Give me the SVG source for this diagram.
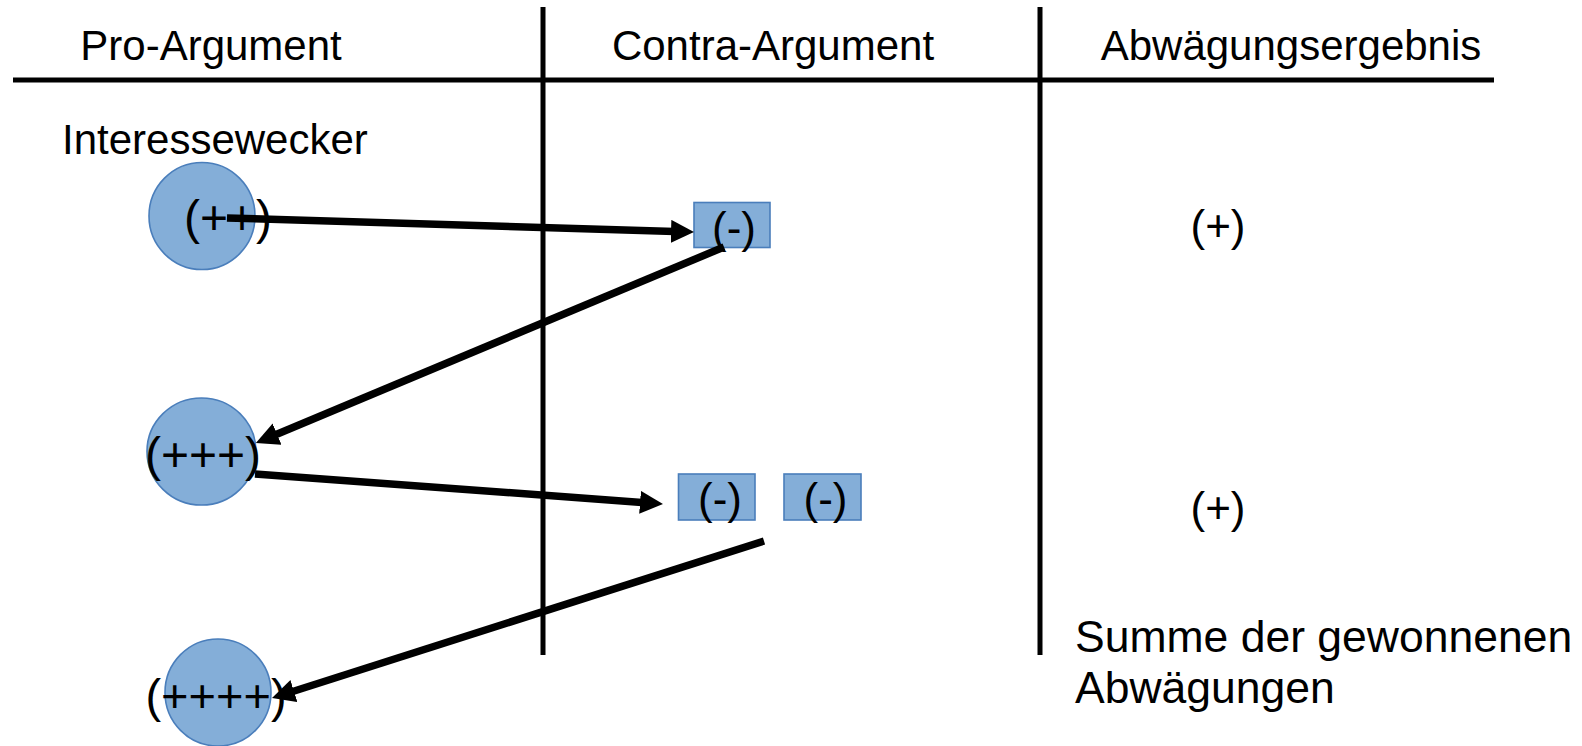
<svg xmlns="http://www.w3.org/2000/svg" width="1582" height="746" viewBox="0 0 1582 746">
<style>
  text { font-family: "Liberation Sans", Arial, sans-serif; fill: #000; }
  .hdr { font-size: 42px; text-anchor: middle; }
  .lbl { font-size: 42px; }
  .sum { font-size: 44.5px; }
  .sym { font-size: 48px; text-anchor: middle; }
  .neg { font-size: 44px; text-anchor: middle; }
  .res { font-size: 44px; text-anchor: middle; }
  .node { fill: #84aed8; stroke: #4a7ebb; stroke-width: 1.6; }
  .rule { stroke: #000; stroke-width: 5; fill: none; }
  .conn { stroke: #000; stroke-width: 7.5; fill: none; marker-end: url(#ah); }
</style>
<defs>
  <marker id="ah" markerUnits="userSpaceOnUse" markerWidth="26" markerHeight="26" refX="12" refY="11.5" orient="auto">
    <path d="M0,0 L23,11.5 L0,23 z" fill="#000"/>
  </marker>
</defs>
<rect width="1582" height="746" fill="#fff"/>

<g id="table">
  <line class="rule" x1="13" y1="80" x2="1494" y2="80"/>
  <line class="rule" x1="543" y1="7" x2="543" y2="655"/>
  <line class="rule" x1="1040" y1="7" x2="1040" y2="655"/>
  <text class="hdr" x="211" y="60">Pro-Argument</text>
  <text class="hdr" x="773" y="60">Contra-Argument</text>
  <text class="hdr" x="1291" y="60">Abwägungsergebnis</text>
</g>

<g id="label-interessewecker">
  <text class="lbl" x="62" y="154">Interessewecker</text>
</g>

<g id="pro1">
  <ellipse class="node" cx="202" cy="216" rx="53" ry="53.5"/>
  <text class="sym" x="228" y="234">(++)</text>
</g>
<g id="pro2">
  <ellipse class="node" cx="201.5" cy="451.5" rx="54.5" ry="53.5"/>
  <text class="sym" x="203" y="471">(+++)</text>
</g>
<g id="pro3">
  <ellipse class="node" cx="218" cy="692.5" rx="53" ry="53.5"/>
  <text class="sym" x="216" y="712" style="font-size:47px">(++++)</text>
</g>

<g id="contra1">
  <rect class="node" x="694" y="202.5" width="76" height="45"/>
  <text class="neg" x="734" y="243">(-)</text>
</g>
<g id="contra2">
  <rect class="node" x="678.5" y="474" width="76.5" height="46"/>
  <text class="neg" x="720" y="514">(-)</text>
</g>
<g id="contra3">
  <rect class="node" x="784" y="474" width="77" height="46"/>
  <text class="neg" x="825.5" y="514">(-)</text>
</g>

<g id="result1">
  <text class="res" x="1218" y="241">(+)</text>
</g>
<g id="result2">
  <text class="res" x="1218" y="523">(+)</text>
</g>

<g id="summary">
  <text class="sum" x="1075" y="652">Summe der gewonnenen</text>
  <text class="sum" x="1075" y="703">Abwägungen</text>
</g>

<g id="connectors">
  <line class="conn" x1="227" y1="218" x2="683" y2="231.7"/>
  <line class="conn" x1="724" y1="247" x2="266" y2="438.7"/>
  <line class="conn" x1="255" y1="474" x2="652" y2="503.2"/>
  <line class="conn" x1="764" y1="541" x2="282.5" y2="694.7"/>
</g>
</svg>
